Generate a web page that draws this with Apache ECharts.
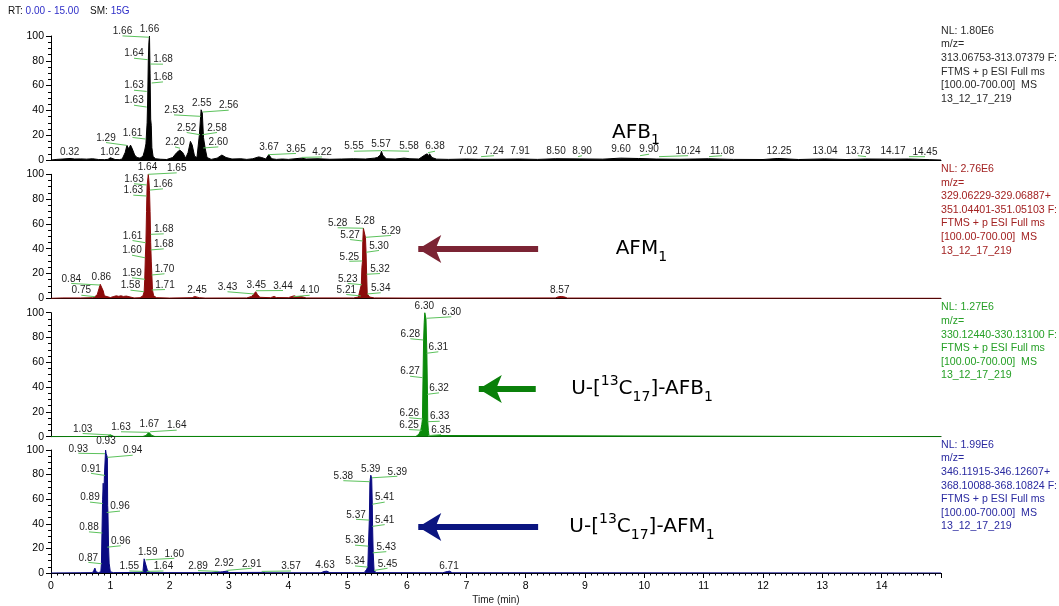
<!DOCTYPE html>
<html><head><meta charset="utf-8">
<script src="https://cdn.jsdelivr.net/npm/echarts@6/dist/echarts.min.js"></script>
<style>html,body{margin:0;padding:0;background:#fff}#c{width:1059px;height:606px}</style>
</head><body><div id="c"></div>
<script>
// ---------- DATA ----------
const xTicks = [0,1,2,3,4,5,6,7,8,9,10,11,12,13,14];
const yTicks = [0,20,40,60,80,100];

// traces: [time (min), relative abundance (%)]
const traceAFB1 = [[0,0],[0.1,0.5],[0.2,0.8],[0.32,1.2],[0.4,0.8],[0.5,0.9],[0.6,0.7],[0.7,1.0],[0.8,0.4],[0.9,0.3],[0.96,0.5],[1.0,1.8],[1.03,1.6],[1.08,0.4],[1.15,0.3],[1.2,0.8],[1.25,6],[1.28,11.8],[1.31,9],[1.34,12],[1.37,9],[1.41,4],[1.45,2],[1.5,1.5],[1.55,3],[1.58,8],[1.6,13],[1.62,30],[1.63,50],[1.64,80],[1.65,95],[1.66,100],[1.67,70],[1.68,33],[1.69,28],[1.7,10],[1.72,3],[1.76,1],[1.85,0.6],[1.95,0.4],[2.05,2],[2.12,6],[2.17,8],[2.22,6],[2.27,1.5],[2.31,6],[2.35,15],[2.38,12],[2.42,3],[2.46,2],[2.5,20],[2.53,40.5],[2.55,38],[2.57,18],[2.6,9],[2.63,2],[2.7,0.5],[2.8,1.5],[2.88,4],[2.95,2],[3.05,0.8],[3.2,1],[3.3,0.5],[3.4,1],[3.5,2.5],[3.55,2],[3.62,0.8],[3.67,4.3],[3.72,1],[3.8,0.5],[3.9,0.8],[4.0,0.5],[4.22,1.5],[4.3,0.8],[4.5,1],[4.7,0.6],[4.9,0.8],[5.1,1],[5.3,0.8],[5.45,1.5],[5.5,2],[5.55,4],[5.57,7],[5.59,4],[5.65,1],[5.8,0.8],[5.95,1.5],[6.05,1],[6.2,0.8],[6.3,4],[6.34,5],[6.36,3],[6.38,5],[6.42,2],[6.5,0.7],[6.7,0.5],[7.0,0.8],[7.2,0.6],[7.5,0.6],[7.9,0.8],[8.2,0.5],[8.5,1],[8.9,0.9],[9.3,0.7],[9.6,1.5],[9.9,1.2],[10.2,0.8],[10.6,0.6],[11.08,1],[11.5,0.5],[12.0,0.4],[12.25,1.2],[12.6,0.4],[13.04,0.9],[13.4,0.4],[13.73,0.8],[14.17,0.7],[14.45,0.8],[14.8,0.3],[15,0]];
const traceAFM1 = [[0,0],[0.2,0.3],[0.5,0.3],[0.7,0.5],[0.74,1.3],[0.78,3],[0.81,8],[0.83,11.3],[0.86,10.5],[0.88,6],[0.9,2],[0.93,0.8],[1.0,0.6],[1.03,2],[1.06,1.5],[1.1,2],[1.14,1.6],[1.18,2],[1.22,1.5],[1.27,1.8],[1.3,0.5],[1.4,0.3],[1.5,0.5],[1.55,2],[1.57,5.3],[1.58,15],[1.59,33],[1.6,45],[1.61,70],[1.62,91],[1.64,100],[1.65,95],[1.66,87],[1.67,70],[1.68,45],[1.69,30],[1.7,18.8],[1.71,6.7],[1.73,2],[1.78,0.5],[2.0,0.2],[2.38,0.5],[2.42,1.5],[2.45,1.6],[2.5,0.5],[2.6,0.2],[3.3,0.3],[3.38,1.5],[3.42,3.5],[3.45,5.3],[3.48,3],[3.52,0.8],[3.7,0.5],[3.76,1.5],[3.8,0.6],[4.0,0.5],[4.06,1.5],[4.1,2],[4.14,1.2],[4.2,1.5],[4.25,1],[4.3,0.3],[5.1,0.3],[5.18,1],[5.21,1.9],[5.23,11],[5.24,25],[5.25,30],[5.255,46],[5.265,56.5],[5.28,57],[5.3,49],[5.31,37],[5.32,19.4],[5.33,3.5],[5.37,1],[5.45,0.3],[6.0,0.2],[8.5,0.3],[8.55,1.2],[8.6,1.5],[8.66,1],[8.7,0.2],[15,0]];
const traceISB1 = [[0,0],[0.95,0.2],[1.0,1.5],[1.03,1.2],[1.06,0.2],[1.55,0.2],[1.6,1],[1.65,3.5],[1.7,1],[1.75,0.2],[6.15,0.2],[6.2,2],[6.23,5],[6.25,10],[6.26,14],[6.27,47.5],[6.28,78],[6.29,92],[6.3,100],[6.32,95],[6.335,67],[6.345,34],[6.35,12],[6.36,5],[6.37,1],[6.4,0.2],[15,0]];
const traceISM1 = [[0,0],[0.5,0.2],[0.7,0.3],[0.72,2],[0.74,4],[0.76,1],[0.8,0.3],[0.84,1],[0.85,7.5],[0.86,35],[0.87,60],[0.88,73],[0.89,60],[0.9,79],[0.92,100],[0.93,97],[0.95,94],[0.955,55],[0.96,49],[0.97,21],[0.98,8],[1.0,1],[1.05,0.3],[1.5,0.5],[1.55,1.3],[1.57,11.5],[1.59,10.7],[1.62,3],[1.64,1.3],[1.68,0.3],[2.7,0.3],[2.78,1],[2.85,0.8],[2.89,1],[2.92,2],[2.96,1.5],[3.0,0.4],[3.57,0.5],[3.62,0.2],[4.55,0.2],[4.6,1.2],[4.65,1.5],[4.7,0.3],[5.28,0.3],[5.32,3],[5.34,5],[5.35,22],[5.365,43],[5.375,74.3],[5.39,79.5],[5.405,77],[5.415,56],[5.42,38],[5.43,16.4],[5.445,2],[5.48,0.3],[6.6,0.2],[6.68,1.2],[6.72,1.5],[6.76,0.2],[15,0]];

// peak annotations: [text, anchor time, anchor %, label time, label %]  (anchor null = apex label)
const annAFB1 = [["1.66",1.655,99,1.205,103.7],["1.66",null,null,1.66,105.6],["1.64",1.63,80.9,1.399,85.7],["1.68",1.669,77.4,1.888,80.9],["1.68",1.697,62.1,1.888,66.6],["1.63",1.613,55.3,1.399,59.9],["1.63",1.613,42.7,1.399,47.8],["1.61",1.596,16.9,1.374,21.8],["1.29",1.276,11.8,0.927,17.7],["1.02",null,null,0.994,6.1],["0.32",null,null,0.315,6.1],["2.53",2.523,35.2,2.073,40],["2.55",null,null,2.54,45.4],["2.56",2.557,38.7,2.995,43.8],["2.52",2.511,20.4,2.287,25.8],["2.58",2.55,20.4,2.798,25.8],["2.20",2.174,9.5,2.09,14.2],["2.60",2.567,9.7,2.82,14.2],["3.67",null,null,3.674,10.5],["3.65",3.662,4.3,4.129,8.9],["4.22",4.226,2.1,4.568,6.1],["5.55",5.562,7.5,5.107,10.7],["5.57",null,null,5.562,12.3],["5.58",5.58,7.5,6.034,10.7],["6.38",6.354,5.9,6.472,10.7],["7.02",null,null,7.028,7.1],["7.24",7.248,2.7,7.467,7.1],["7.91",null,null,7.905,7.1],["8.50",null,null,8.511,7.1],["8.90",8.883,2.7,8.95,7.1],["9.60",null,null,9.607,8.3],["9.90",9.928,3.5,10.08,8.3],["10.24",10.248,2.7,10.737,7.1],["11.08",11.09,2.7,11.31,7.1],["12.25",null,null,12.27,7.1],["13.04",null,null,13.046,7.1],["13.73",13.737,2.7,13.6,7.1],["14.17",null,null,14.19,7.1],["14.45",14.46,2.7,14.73,6.3]];
const annAFM1 = [["1.64",null,null,1.626,105.6],["1.65",1.64,100,2.119,104.8],["1.63",1.613,91.4,1.399,96],["1.66",1.669,87.3,1.888,91.9],["1.63",1.613,82.5,1.387,86.8],["1.68",1.68,51.6,1.9,55.6],["1.61",1.596,44.8,1.374,50.2],["1.68",1.68,39,1.9,43.5],["1.60",1.584,32.7,1.365,38.4],["1.70",1.697,18.8,1.913,23.4],["1.59",1.584,15.3,1.365,20.2],["1.71",1.697,6.7,1.921,10.7],["1.58",1.567,5.3,1.34,10.2],["0.84",0.826,10.7,0.342,15.6],["0.86",null,null,0.848,16.9],["0.75",0.742,1.3,0.511,6.1],["2.45",null,null,2.461,6.1],["3.43",3.422,3.5,2.975,8.9],["3.45",null,null,3.46,10.7],["3.44",3.455,6.1,3.91,9.9],["4.10",4.084,1.3,4.36,6.1],["5.28",null,null,5.292,61.8],["5.28",5.264,56.5,4.832,60.5],["5.27",5.254,46.2,5.04,51],["5.29",5.309,49.2,5.731,54.3],["5.30",5.309,37.1,5.528,42.2],["5.25",5.247,30.1,5.028,33.5],["5.32",5.321,19.4,5.545,23.6],["5.23",5.237,11,5.001,15.6],["5.34",5.331,3.5,5.557,8.1],["5.21",5.22,1.9,4.977,6.7],["8.57",null,null,8.574,6.7]];
const annISB1 = [["6.30",null,null,6.292,105.6],["6.30",6.332,95.5,6.747,100.3],["6.28",6.275,78,6.056,82.6],["6.31",6.332,67.3,6.528,72.1],["6.27",6.265,47.6,6.051,52.4],["6.32",6.343,34.2,6.54,39],["6.26",6.265,14.3,6.039,18.9],["6.33",6.349,12.1,6.551,16.1],["6.25",6.248,5.2,6.034,9.4],["6.35",6.359,0.8,6.573,5.4],["1.03",1.011,1.4,0.534,6.2],["1.63",1.652,3.5,1.18,7.6],["1.67",null,null,1.657,10],["1.64",1.669,4,2.119,8.9]];
const annISM1 = [["0.93",null,null,0.927,106.9],["0.93",0.91,97,0.46,101],["0.94",0.949,94,1.377,99.4],["0.91",0.91,79.3,0.674,84.7],["0.89",0.871,56.5,0.657,61.3],["0.96",0.939,49.2,1.163,54],["0.88",0.865,32.5,0.64,37.1],["0.96",0.949,21,1.175,25.8],["0.87",0.855,7.5,0.629,12.3],["1.59",null,null,1.63,16.9],["1.60",1.596,10.7,2.078,15.6],["1.55",1.556,1.3,1.32,5.3],["1.64",1.613,1.3,1.896,5.3],["2.89",2.82,1.3,2.478,5.6],["2.92",null,null,2.919,8.3],["2.91",2.961,2.1,3.383,7.5],["3.57",3.551,1.3,4.045,5.3],["4.63",null,null,4.618,6.1],["5.39",null,null,5.388,84.7],["5.38",5.377,74.2,4.927,78.7],["5.39",5.405,77.4,5.837,82.3],["5.41",5.416,55.9,5.624,61.3],["5.37",5.365,43,5.141,47.3],["5.41",5.416,37.9,5.624,43],["5.36",5.348,21.8,5.124,26.3],["5.43",5.422,16.4,5.651,21],["5.34",5.338,4.8,5.124,9.4],["5.45",5.444,2.1,5.672,7.5],["6.71",null,null,6.708,5.6]];

// compound names, arrows [from time, to time, %], name position [time, %]
const names = ["AFB{s|1}", "AFM{s|1}", "U-[{p|13}C{s|17}]-AFB{s|1}", "U-[{p|13}C{s|17}]-AFM{s|1}"];
const namePos = [[9.86,21.9],[9.95,39.8],[9.96,38.5],[9.96,37.3]];
const arrows = [null, [8.21,6.19,39.8], [8.17,7.21,38.5], [8.21,6.19,37.3]];

const nlInfo = [
 ["NL: 1.80E6","m/z=","313.06753-313.07379 F:","FTMS + p ESI Full ms","[100.00-700.00]  MS","13_12_17_219"],
 ["NL: 2.76E6","m/z=","329.06229-329.06887+","351.04401-351.05103 F:","FTMS + p ESI Full ms","[100.00-700.00]  MS","13_12_17_219"],
 ["NL: 1.27E6","m/z=","330.12440-330.13100 F:","FTMS + p ESI Full ms","[100.00-700.00]  MS","13_12_17_219"],
 ["NL: 1.99E6","m/z=","346.11915-346.12607+","368.10088-368.10824 F:","FTMS + p ESI Full ms","[100.00-700.00]  MS","13_12_17_219"]
];

// ---------- STYLE ----------
const traces = [traceAFB1, traceAFM1, traceISB1, traceISM1];
const anns = [annAFB1, annAFM1, annISB1, annISM1];
const fillColors = ['#000000', '#8b0b0b', '#0b8a0b', '#0a0a82'];
const textColors = ['#2a2a2a', '#a32222', '#26a026', '#2a2aa0'];
const arrowColors = [null, '#7b2434', '#0a800a', '#0b1580'];
const tops = [36, 174.3, 312.7, 450];
const H = 124;
const SMALL = '"Liberation Sans", Arial, sans-serif';
const BIG = '"DejaVu Sans", Verdana, sans-serif';

const chart = echarts.init(document.getElementById('c'), null, {renderer: 'canvas'});

const grid = [], xAxis = [], yAxis = [], series = [];
for (let i = 0; i < 4; i++) {
  grid.push({left: 51, right: 118, top: tops[i], height: H, containLabel: false});
  const last = i === 3;
  xAxis.push({
    type: 'value', gridIndex: i, min: 0, max: 15, interval: 1,
    axisLine: {show: true, onZero: false, lineStyle: {color: '#000', width: 1}},
    axisTick: {show: last, length: 5, lineStyle: {color: '#000'}},
    minorTick: {show: last, splitNumber: 10, length: 2.5, lineStyle: {color: '#000'}},
    axisLabel: {show: last, fontSize: 10.5, fontFamily: SMALL, color: '#000', margin: 8,
      formatter: v => xTicks.indexOf(v) >= 0 ? String(v) : ''},
    splitLine: {show: false},
    name: last ? 'Time (min)' : '', nameLocation: 'middle', nameGap: 22,
    nameTextStyle: {fontSize: 10, fontFamily: SMALL, color: '#222'}
  });
  yAxis.push({
    type: 'value', gridIndex: i, min: 0, max: 100, interval: 20,
    axisLine: {show: true, lineStyle: {color: '#000', width: 1}},
    axisTick: {show: true, length: 5, lineStyle: {color: '#000'}},
    minorTick: {show: true, splitNumber: 4, length: 3, lineStyle: {color: '#000'}},
    axisLabel: {fontSize: 10.5, fontFamily: SMALL, color: '#000', margin: 7,
      formatter: v => yTicks.indexOf(v) >= 0 ? String(v) : ''},
    splitLine: {show: false}
  });
  const s = {
    type: 'line', xAxisIndex: i, yAxisIndex: i, data: traces[i],
    showSymbol: false, symbol: 'none', sampling: null, silent: true, animation: false,
    lineStyle: {color: fillColors[i], width: 1},
    areaStyle: {color: fillColors[i], opacity: 1},
    z: 2,
    markPoint: {
      symbol: 'circle', symbolSize: 0, silent: true, animation: false,
      data: [{coord: namePos[i], value: 0}],
      label: {
        show: true, position: 'inside', formatter: names[i],
        fontFamily: BIG, fontSize: 20, color: '#000', lineHeight: 30,
        rich: {
          s: {fontSize: 14, lineHeight: 14, verticalAlign: 'bottom', fontFamily: BIG, color: '#000'},
          p: {fontSize: 14, lineHeight: 14, verticalAlign: 'top', fontFamily: BIG, color: '#000'}
        }
      }
    }
  };
  if (arrows[i]) {
    const a = arrows[i];
    s.markLine = {
      silent: true, animation: false, symbol: ['none', 'arrow'], symbolSize: [21, 23],
      label: {show: false},
      lineStyle: {color: arrowColors[i], width: 6, type: 'solid'},
      data: [[{coord: [a[0], a[2]]}, {coord: [a[1], a[2]]}]]
    };
  }
  series.push(s);

  const ann = anns[i];
  series.push({
    type: 'custom', coordinateSystem: 'cartesian2d', xAxisIndex: i, yAxisIndex: i,
    clip: false, silent: true, animation: false, z: 5,
    encode: {x: 0, y: 1},
    data: ann.map(a => [a[3], a[4]]),
    renderItem: function (params, api) {
      const a = ann[params.dataIndex];
      const p = api.coord([a[3], a[4]]);
      const children = [];
      if (a[1] !== null) {
        const q = api.coord([a[1], a[2]]);
        children.push({type: 'line', shape: {x1: q[0], y1: q[1], x2: p[0], y2: p[1] + 4.5},
          style: {stroke: '#5cc25c', lineWidth: 1}});
      }
      children.push({type: 'text', x: p[0], y: p[1],
        style: {text: a[0], fill: '#1e1e1e', font: '10px ' + SMALL, align: 'center', verticalAlign: 'middle'}});
      return {type: 'group', children: children};
    }
  });
}

const graphic = [
  {type: 'text', left: 8, top: 6, style: {
    text: '{k|RT: }{v|0.00 - 15.00}{k|    SM: }{v|15G}',
    rich: {k: {fill: '#111', font: '10px ' + SMALL}, v: {fill: '#2e2ec8', font: '10px ' + SMALL}}}}
];
for (let i = 0; i < 4; i++) {
  graphic.push({type: 'text', left: 941, top: tops[i] - 12, style: {
    text: nlInfo[i].join('\n'), fill: textColors[i], font: '10.6px ' + SMALL, lineHeight: 13.6}});
}

chart.setOption({
  animation: false,
  backgroundColor: '#fff',
  grid: grid, xAxis: xAxis, yAxis: yAxis, series: series, graphic: graphic
});
</script></body></html>
